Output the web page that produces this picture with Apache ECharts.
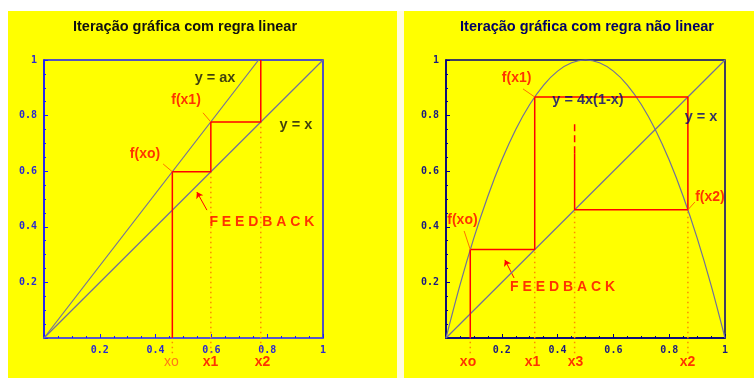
<!DOCTYPE html>
<html>
<head>
<meta charset="utf-8">
<script src="https://cdn.jsdelivr.net/npm/echarts@6/dist/echarts.min.js"></script>
<style>
  html, body { margin: 0; padding: 0; background: #fff; }
  #chart { width: 754px; height: 378px; }
</style>
</head>
<body>
<div id="chart"></div>
<script>
// dados
let identityX = [0, 1];
let identityY = [0, 1];
let linearX = [0, 0.769]; // y = ax, a ~ 1.3
let linearY = [0, 1];
let linearCobX = [0.46, 0.46, 0.598, 0.598, 0.777, 0.777];
let linearCobY = [0, 0.598, 0.598, 0.777, 0.777, 1];
let linearIterNames = ["xo", "x1", "x2"];
let linearIterX = [0.46, 0.598, 0.777];
let linearIterTop = [0, 0.598, 0.777];

let parabolaX = [0, 0.05, 0.1, 0.15, 0.2, 0.25, 0.3, 0.35, 0.4, 0.45, 0.5, 0.55, 0.6, 0.65, 0.7, 0.75, 0.8, 0.85, 0.9, 0.95, 1];
let parabolaY = [0, 0.19, 0.36, 0.51, 0.64, 0.75, 0.84, 0.91, 0.96, 0.99, 1, 0.99, 0.96, 0.91, 0.84, 0.75, 0.64, 0.51, 0.36, 0.19, 0];
let nlCobX = [0.087, 0.087, 0.318, 0.318, 0.867, 0.867, 0.461, 0.461];
let nlCobY = [0, 0.318, 0.318, 0.867, 0.867, 0.461, 0.461, 0.665];
let nlDashX = [0.461, 0.461];
let nlDashY = [0.665, 0.77];
let nlIterNames = ["xo", "x1", "x3", "x2"];
let nlIterX = [0.087, 0.318, 0.461, 0.867];
let nlIterTop = [0, 0.318, 0.461, 0.461];

let tickLabels = ["0.2", "0.4", "0.6", "0.8", "1"];

function pairs(xs, ys) {
  return xs.map((x, i) => [x, ys[i]]);
}

function guideData(xs, tops) {
  // linhas pontilhadas de cada iterado, descem abaixo do eixo ate ao nome
  let arr = [];
  xs.map((x, i) => {
    arr = [...arr, [x, -0.055], [x, tops[i]], [null, null]];
  });
  return arr;
}

function tickFormatter(v) {
  let s = v === 1 ? "1" : v.toFixed(1);
  return tickLabels.indexOf(s) >= 0 ? s : "";
}

function makeAxes(idx, frameColor, bottomColor, labelColor) {
  let common = {
    type: "value",
    min: 0,
    max: 1,
    interval: 0.2,
    gridIndex: idx,
    splitLine: { show: false },
    axisTick: { show: true, inside: true, length: 4, lineStyle: { color: frameColor } },
    minorTick: { show: true, splitNumber: 4, length: 2, lineStyle: { color: frameColor } },
    axisLabel: {
      formatter: tickFormatter,
      color: labelColor,
      fontFamily: "DejaVu Sans Mono",
      fontWeight: "bold",
      fontSize: 10
    }
  };
  let x = Object.assign({}, common, {
    axisLine: { show: true, lineStyle: { color: bottomColor, width: 1.5 } }
  });
  x.axisLabel = Object.assign({}, common.axisLabel, { margin: 7 });
  let y = Object.assign({}, common, {
    axisLine: { show: true, lineStyle: { color: frameColor, width: 1.5 } }
  });
  y.axisLabel = Object.assign({}, common.axisLabel, { margin: 7 });
  return { x: x, y: y };
}

let leftAxes = makeAxes(0, "#1a1aff", "#5a5acc", "#2a2ad0");
let rightAxes = makeAxes(1, "#000080", "#000080", "#1a1a80");

let curveColor = "#70709c";
let red = "#ff0000";
let dotColor = "#ff8a00";
let pointerColor = "#ff7000";

function textItem(name, x, y, color, size, weight) {
  return {
    name: name,
    value: [x, y],
    label: {
      show: true,
      position: "inside",
      formatter: "{b}",
      color: color,
      fontSize: size,
      fontWeight: weight || "bold",
      fontFamily: "Liberation Sans"
    }
  };
}

function lineSeries(idx, data, color, width, type, z) {
  return {
    type: "line",
    xAxisIndex: idx,
    yAxisIndex: idx,
    data: data,
    showSymbol: false,
    symbol: "none",
    clip: false,
    silent: true,
    connectNulls: false,
    lineStyle: { color: color, width: width, type: type || "solid" },
    z: z || 2,
    animation: false
  };
}

function arrowSeries(idx, coords) {
  return {
    type: "lines",
    coordinateSystem: "cartesian2d",
    xAxisIndex: idx,
    yAxisIndex: idx,
    symbol: ["none", "arrow"],
    symbolSize: 6,
    silent: true,
    lineStyle: { color: red, width: 1, opacity: 1 },
    data: [{ coords: coords }],
    animation: false
  };
}

let chart = echarts.init(document.getElementById("chart"));

let option = {
  animation: false,
  graphic: [
    { type: "rect", z: -10, silent: true, shape: { x: 8, y: 11, width: 389, height: 367 }, style: { fill: "#ffff00" } },
    { type: "rect", z: -10, silent: true, shape: { x: 397, y: 11, width: 7, height: 367 }, style: { fill: "#fffbe0" } },
    { type: "rect", z: -10, silent: true, shape: { x: 404, y: 11, width: 350, height: 367 }, style: { fill: "#ffff00" } },
    {
      type: "text", silent: true, x: 185, y: 27,
      style: { text: "Iteração gráfica com regra linear", font: 'bold 14.5px "Liberation Sans"', fill: "#111", align: "center", verticalAlign: "middle" }
    },
    {
      type: "text", silent: true, x: 587, y: 27,
      style: { text: "Iteração gráfica com regra não linear", font: 'bold 14.5px "Liberation Sans"', fill: "#000066", align: "center", verticalAlign: "middle" }
    }
  ],
  grid: [
    { left: 44, top: 60, width: 279, height: 278, show: true, borderColor: "#1a1aff", borderWidth: 1.5, backgroundColor: "transparent" },
    { left: 446, top: 60, width: 279, height: 278, show: true, borderColor: "#000080", borderWidth: 1.5, backgroundColor: "transparent" }
  ],
  xAxis: [leftAxes.x, rightAxes.x],
  yAxis: [leftAxes.y, rightAxes.y],
  series: [
    // grafico da esquerda
    lineSeries(0, pairs(identityX, identityY), curveColor, 1.2),
    lineSeries(0, pairs(linearX, linearY), curveColor, 1.2),
    lineSeries(0, guideData(linearIterX, linearIterTop), dotColor, 1.5, [1.5, 3.5], 1),
    lineSeries(0, pairs(linearCobX, linearCobY), red, 1.5, "solid", 3),
    lineSeries(0, [[0.427, 0.626], [0.46, 0.598], [null, null], [0.57, 0.81], [0.598, 0.777]], pointerColor, 1, "solid", 3),
    arrowSeries(0, [[0.584, 0.46], [0.548, 0.525]]),
    {
      type: "scatter",
      xAxisIndex: 0,
      yAxisIndex: 0,
      symbolSize: 0,
      clip: false,
      silent: true,
      z: 5,
      data: [
        textItem("y = ax", 0.613, 0.935, "#111", 14.5),
        textItem("y = x", 0.903, 0.766, "#111", 14.5),
        textItem("f(x1)", 0.509, 0.856, red, 14),
        textItem("f(xo)", 0.362, 0.662, red, 14),
        textItem("F E E D B A C K", 0.781, 0.417, red, 14),
        textItem(linearIterNames[0], 0.457, -0.086, "#ff5a1a", 14, "normal"),
        textItem(linearIterNames[1], 0.597, -0.086, red, 14),
        textItem(linearIterNames[2], 0.783, -0.086, red, 14)
      ]
    },
    // grafico da direita
    lineSeries(1, pairs(identityX, identityY), curveColor, 1.2),
    Object.assign(lineSeries(1, pairs(parabolaX, parabolaY), curveColor, 1.2), { smooth: 0.3 }),
    lineSeries(1, guideData(nlIterX, nlIterTop), dotColor, 1.5, [1.5, 3.5], 1),
    lineSeries(1, pairs(nlCobX, nlCobY), red, 1.5, "solid", 3),
    lineSeries(1, pairs(nlDashX, nlDashY), red, 1.5, [7, 4], 3),
    lineSeries(1, [[0.065, 0.385], [0.087, 0.318], [null, null], [0.276, 0.896], [0.318, 0.867], [null, null], [0.892, 0.489], [0.867, 0.461]], pointerColor, 1, "solid", 3),
    arrowSeries(1, [[0.244, 0.216], [0.211, 0.281]]),
    {
      type: "scatter",
      xAxisIndex: 1,
      yAxisIndex: 1,
      symbolSize: 0,
      clip: false,
      silent: true,
      z: 5,
      data: [
        textItem("f(x1)", 0.253, 0.935, red, 14),
        textItem("y = 4x(1-x)", 0.509, 0.856, "#000080", 14.5),
        textItem("y = x", 0.914, 0.795, "#000080", 14.5),
        textItem("f(xo)", 0.059, 0.424, red, 14),
        textItem("f(x2)", 0.946, 0.507, red, 14),
        textItem("F E E D B A C K", 0.418, 0.183, red, 14),
        textItem(nlIterNames[0], 0.079, -0.086, red, 14),
        textItem(nlIterNames[1], 0.31, -0.086, red, 14),
        textItem(nlIterNames[2], 0.464, -0.086, red, 14),
        textItem(nlIterNames[3], 0.866, -0.086, red, 14)
      ]
    }
  ]
};

chart.setOption(option, true);
</script>
</body>
</html>
